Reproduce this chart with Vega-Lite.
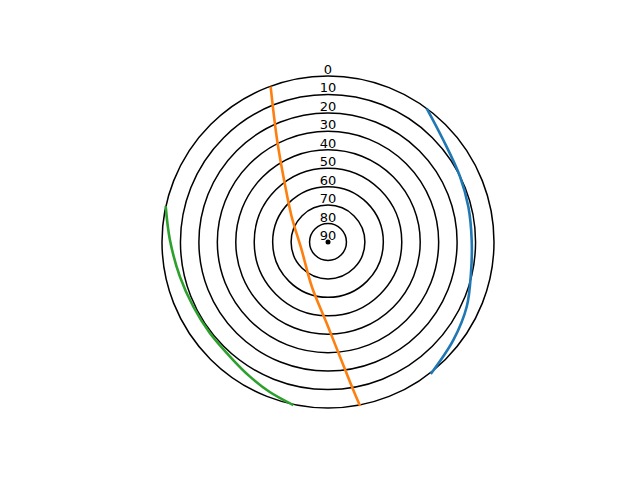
{
  "$schema": "https://vega.github.io/schema/vega-lite/v6.json",
  "autosize": {"type": "none"},
  "width": 332,
  "height": 332,
  "padding": {"left": 162, "top": 76, "right": 146, "bottom": 72},
  "background": "white",
  "config": {"view": {"stroke": null}},
  "datasets": {
    "rings": [
      {"elev": 0, "zen": 90}, {"elev": 10, "zen": 80}, {"elev": 20, "zen": 70},
      {"elev": 30, "zen": 60}, {"elev": 40, "zen": 50}, {"elev": 50, "zen": 40},
      {"elev": 60, "zen": 30}, {"elev": 70, "zen": 20}, {"elev": 80, "zen": 10},
      {"elev": 90, "zen": 0}
    ],
    "tracks": [
      {"sat": "A", "i": 0, "x": 53.5, "y": 72.5},
      {"sat": "A", "i": 1, "x": 62.5, "y": 55.3},
      {"sat": "A", "i": 2, "x": 71.6, "y": 35.4},
      {"sat": "A", "i": 3, "x": 76.1, "y": 19.1},
      {"sat": "A", "i": 4, "x": 77.9, "y": 1.1},
      {"sat": "A", "i": 5, "x": 77.5, "y": -17.0},
      {"sat": "A", "i": 6, "x": 75.2, "y": -35.1},
      {"sat": "A", "i": 7, "x": 68.0, "y": -53.1},
      {"sat": "A", "i": 8, "x": 55.7, "y": -71.6},
      {"sat": "B", "i": 0, "x": -31.1, "y": 84.2},
      {"sat": "B", "i": 1, "x": -27.6, "y": 55.3},
      {"sat": "B", "i": 2, "x": -23.3, "y": 30.9},
      {"sat": "B", "i": 3, "x": -19.7, "y": 13.7},
      {"sat": "B", "i": 4, "x": -14.3, "y": -4.3},
      {"sat": "B", "i": 5, "x": -8.7, "y": -24.4},
      {"sat": "B", "i": 6, "x": -0.7, "y": -44.1},
      {"sat": "B", "i": 7, "x": 6.5, "y": -62.2},
      {"sat": "B", "i": 8, "x": 13.7, "y": -80.3},
      {"sat": "B", "i": 9, "x": 17.4, "y": -88.9},
      {"sat": "C", "i": 0, "x": -88.0, "y": 19.5},
      {"sat": "C", "i": 1, "x": -85.7, "y": 1.1},
      {"sat": "C", "i": 2, "x": -80.3, "y": -18.8},
      {"sat": "C", "i": 3, "x": -73.0, "y": -35.1},
      {"sat": "C", "i": 4, "x": -64.0, "y": -49.5},
      {"sat": "C", "i": 5, "x": -51.4, "y": -64.0},
      {"sat": "C", "i": 6, "x": -42.3, "y": -73.0},
      {"sat": "C", "i": 7, "x": -31.8, "y": -81.2},
      {"sat": "C", "i": 8, "x": -18.8, "y": -88.4}
    ]
  },
  "layer": [
    {
      "data": {"name": "rings"},
      "transform": [{"filter": "datum.zen > 0"}],
      "mark": {"type": "point", "shape": "circle", "filled": false, "stroke": "black", "strokeWidth": 1.5, "opacity": 1},
      "encoding": {
        "x": {"datum": 0, "type": "quantitative", "scale": {"domain": [-90, 90], "nice": false, "zero": false}, "axis": null},
        "y": {"datum": 0, "type": "quantitative", "scale": {"domain": [-90, 90], "nice": false, "zero": false}, "axis": null},
        "size": {"field": "zen", "type": "quantitative", "scale": {"type": "pow", "exponent": 2, "domain": [0, 90], "range": [0, 110224]}, "legend": null}
      }
    },
    {
      "data": {"name": "rings"},
      "transform": [{"filter": "datum.zen == 0"}],
      "mark": {"type": "point", "shape": "circle", "filled": true, "color": "black", "size": 25, "opacity": 1},
      "encoding": {
        "x": {"field": "zen", "type": "quantitative", "scale": {"domain": [-90, 90], "nice": false, "zero": false}, "axis": null},
        "y": {"field": "zen", "type": "quantitative", "scale": {"domain": [-90, 90], "nice": false, "zero": false}, "axis": null}
      }
    },
    {
      "data": {"name": "tracks"},
      "mark": {"type": "line", "strokeWidth": 2.6, "interpolate": "catmull-rom"},
      "encoding": {
        "x": {"field": "x", "type": "quantitative", "scale": {"domain": [-90, 90], "nice": false, "zero": false}, "axis": null},
        "y": {"field": "y", "type": "quantitative", "scale": {"domain": [-90, 90], "nice": false, "zero": false}, "axis": null},
        "order": {"field": "i", "type": "quantitative"},
        "color": {"field": "sat", "type": "nominal", "scale": {"domain": ["A", "B", "C"], "range": ["#1f77b4", "#ff7f0e", "#2ca02c"]}, "legend": null}
      }
    },
    {
      "data": {"name": "rings"},
      "mark": {"type": "text", "font": "DejaVu Sans", "fontSize": 13, "align": "center", "baseline": "alphabetic", "dy": -2, "color": "black"},
      "encoding": {
        "x": {"datum": 0, "type": "quantitative", "scale": {"domain": [-90, 90], "nice": false, "zero": false}, "axis": null},
        "y": {"field": "zen", "type": "quantitative", "scale": {"domain": [-90, 90], "nice": false, "zero": false}, "axis": null},
        "text": {"field": "elev", "type": "quantitative"}
      }
    }
  ]
}
